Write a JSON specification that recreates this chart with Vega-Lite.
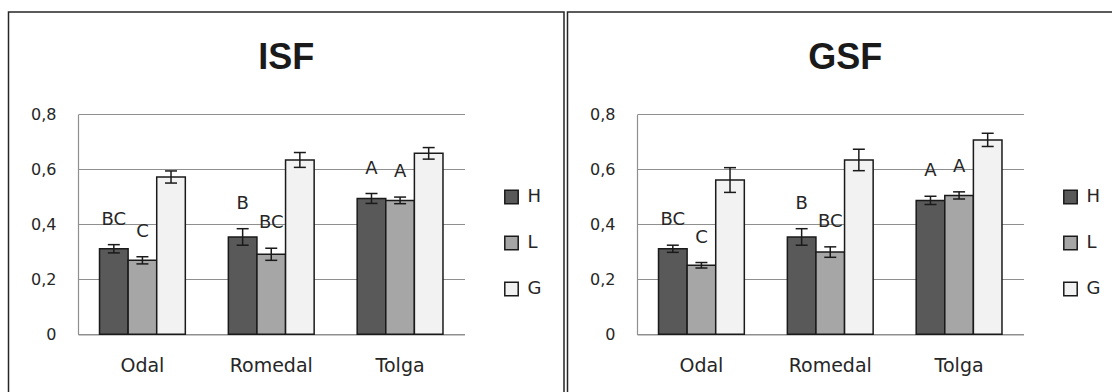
{
  "$schema": "https://vega.github.io/schema/vega-lite/v6.json",
  "padding": {"left": 7.5, "top": 11, "right": 0, "bottom": 0},
  "background": "white",
  "spacing": 1,
  "data": {"values": [
    {"panel": "ISF", "site": "Odal", "trt": "H", "mean": 0.311, "err": 0.015, "letter": "BC"},
    {"panel": "ISF", "site": "Odal", "trt": "L", "mean": 0.269, "err": 0.013, "letter": "C"},
    {"panel": "ISF", "site": "Odal", "trt": "G", "mean": 0.572, "err": 0.022, "letter": ""},
    {"panel": "ISF", "site": "Romedal", "trt": "H", "mean": 0.354, "err": 0.030, "letter": "B"},
    {"panel": "ISF", "site": "Romedal", "trt": "L", "mean": 0.291, "err": 0.022, "letter": "BC"},
    {"panel": "ISF", "site": "Romedal", "trt": "G", "mean": 0.634, "err": 0.027, "letter": ""},
    {"panel": "ISF", "site": "Tolga", "trt": "H", "mean": 0.494, "err": 0.018, "letter": "A"},
    {"panel": "ISF", "site": "Tolga", "trt": "L", "mean": 0.487, "err": 0.012, "letter": "A"},
    {"panel": "ISF", "site": "Tolga", "trt": "G", "mean": 0.658, "err": 0.021, "letter": ""},
    {"panel": "GSF", "site": "Odal", "trt": "H", "mean": 0.311, "err": 0.013, "letter": "BC"},
    {"panel": "GSF", "site": "Odal", "trt": "L", "mean": 0.251, "err": 0.010, "letter": "C"},
    {"panel": "GSF", "site": "Odal", "trt": "G", "mean": 0.561, "err": 0.045, "letter": ""},
    {"panel": "GSF", "site": "Romedal", "trt": "H", "mean": 0.354, "err": 0.030, "letter": "B"},
    {"panel": "GSF", "site": "Romedal", "trt": "L", "mean": 0.299, "err": 0.019, "letter": "BC"},
    {"panel": "GSF", "site": "Romedal", "trt": "G", "mean": 0.634, "err": 0.039, "letter": ""},
    {"panel": "GSF", "site": "Tolga", "trt": "H", "mean": 0.487, "err": 0.015, "letter": "A"},
    {"panel": "GSF", "site": "Tolga", "trt": "L", "mean": 0.505, "err": 0.013, "letter": "A"},
    {"panel": "GSF", "site": "Tolga", "trt": "G", "mean": 0.707, "err": 0.024, "letter": ""}
  ]},
  "config": {
    "view": {"stroke": "#262626", "strokeWidth": 1.5},
    "font": "DejaVu Sans",
    "axis": {"labelFont": "DejaVu Sans", "labelColor": "#262626", "domainColor": "#8f8f8f", "domainWidth": 1.2, "gridColor": "#8f8f8f", "gridWidth": 1.2, "ticks": false, "tickSize": 0, "title": null}
  },
  "resolve": {"scale": {"color": "independent"}, "legend": {"color": "independent"}},
  "hconcat": [
    {
      "width": 555.5, "height": 390,
      "title": {"text": "ISF", "font": "Liberation Sans", "fontSize": 36, "fontWeight": "bold", "color": "#1a1a1a", "anchor": "middle", "frame": "group", "baseline": "alphabetic", "offset": -93},
      "transform": [
        {"filter": "datum.panel == 'ISF'"},
        {"calculate": "datum.mean - datum.err", "as": "lo"},
        {"calculate": "datum.mean + datum.err", "as": "hi"}
      ],
      "encoding": {
        "x": {"field": "site", "type": "nominal", "sort": ["Odal", "Romedal", "Tolga"],
              "scale": {"range": [69.5, 456], "paddingInner": 0.334, "paddingOuter": 0.167},
              "axis": {"orient": "bottom", "offset": -67.7, "labelAngle": 0, "labelFontSize": 19, "labelBaseline": "alphabetic", "labelPadding": 37, "grid": false}},
        "xOffset": {"field": "trt", "type": "nominal", "sort": ["H", "L", "G"]}
      },
      "layer": [
        {
          "mark": {"type": "bar", "stroke": "#1a1a1a", "strokeWidth": 1.5},
          "encoding": {
            "y": {"field": "mean", "type": "quantitative",
                  "scale": {"domain": [0, 0.8], "range": [322.3, 102.3], "nice": false},
                  "axis": {"offset": -69.5, "values": [0, 0.2, 0.4, 0.6, 0.8], "grid": true, "labelFontSize": 16, "labelPadding": 22, "labelExpr": "datum.value == 0 ? '0' : replace(format(datum.value, '.1f'), '.', ',')"}},
            "color": {"field": "trt", "type": "nominal", "sort": ["H", "L", "G"],
                      "scale": {"domain": ["H", "L", "G"], "range": ["#595959", "#a6a6a6", "#f2f2f2"]},
                      "legend": {"orient": "none", "legendX": 494, "legendY": 176, "title": null, "symbolType": "square", "symbolSize": 180, "symbolStrokeColor": "#1a1a1a", "symbolStrokeWidth": 1.5, "symbolOpacity": 1, "labelFontSize": 18, "labelFont": "DejaVu Sans", "labelColor": "#262626", "labelOffset": 7, "rowPadding": 26, "padding": 0}}
          }
        },
        {
          "mark": {"type": "rule", "color": "#1a1a1a", "strokeWidth": 1.5},
          "encoding": {"y": {"field": "lo", "type": "quantitative"}, "y2": {"field": "hi"}}
        },
        {
          "mark": {"type": "tick", "color": "#1a1a1a", "thickness": 1.5, "size": 12, "opacity": 1},
          "encoding": {"y": {"field": "lo", "type": "quantitative"}}
        },
        {
          "mark": {"type": "tick", "color": "#1a1a1a", "thickness": 1.5, "size": 12, "opacity": 1},
          "encoding": {"y": {"field": "hi", "type": "quantitative"}}
        },
        {
          "transform": [{"filter": "datum.letter != ''"}],
          "mark": {"type": "text", "fontSize": 18, "dy": -25, "baseline": "middle", "align": "center", "color": "#262626"},
          "encoding": {"y": {"field": "hi", "type": "quantitative"}, "text": {"field": "letter"}}
        }
      ]
    },
    {
      "width": 555.5, "height": 390,
      "title": {"text": "GSF", "font": "Liberation Sans", "fontSize": 36, "fontWeight": "bold", "color": "#1a1a1a", "anchor": "middle", "frame": "group", "baseline": "alphabetic", "offset": -93},
      "transform": [
        {"filter": "datum.panel == 'GSF'"},
        {"calculate": "datum.mean - datum.err", "as": "lo"},
        {"calculate": "datum.mean + datum.err", "as": "hi"}
      ],
      "encoding": {
        "x": {"field": "site", "type": "nominal", "sort": ["Odal", "Romedal", "Tolga"],
              "scale": {"range": [69.5, 456], "paddingInner": 0.334, "paddingOuter": 0.167},
              "axis": {"orient": "bottom", "offset": -67.7, "labelAngle": 0, "labelFontSize": 19, "labelBaseline": "alphabetic", "labelPadding": 37, "grid": false}},
        "xOffset": {"field": "trt", "type": "nominal", "sort": ["H", "L", "G"]}
      },
      "layer": [
        {
          "mark": {"type": "bar", "stroke": "#1a1a1a", "strokeWidth": 1.5},
          "encoding": {
            "y": {"field": "mean", "type": "quantitative",
                  "scale": {"domain": [0, 0.8], "range": [322.3, 102.3], "nice": false},
                  "axis": {"offset": -69.5, "values": [0, 0.2, 0.4, 0.6, 0.8], "grid": true, "labelFontSize": 16, "labelPadding": 22, "labelExpr": "datum.value == 0 ? '0' : replace(format(datum.value, '.1f'), '.', ',')"}},
            "color": {"field": "trt", "type": "nominal", "sort": ["H", "L", "G"],
                      "scale": {"domain": ["H", "L", "G"], "range": ["#595959", "#a6a6a6", "#f2f2f2"]},
                      "legend": {"orient": "none", "legendX": 494, "legendY": 176, "title": null, "symbolType": "square", "symbolSize": 180, "symbolStrokeColor": "#1a1a1a", "symbolStrokeWidth": 1.5, "symbolOpacity": 1, "labelFontSize": 18, "labelFont": "DejaVu Sans", "labelColor": "#262626", "labelOffset": 7, "rowPadding": 26, "padding": 0}}
          }
        },
        {
          "mark": {"type": "rule", "color": "#1a1a1a", "strokeWidth": 1.5},
          "encoding": {"y": {"field": "lo", "type": "quantitative"}, "y2": {"field": "hi"}}
        },
        {
          "mark": {"type": "tick", "color": "#1a1a1a", "thickness": 1.5, "size": 12, "opacity": 1},
          "encoding": {"y": {"field": "lo", "type": "quantitative"}}
        },
        {
          "mark": {"type": "tick", "color": "#1a1a1a", "thickness": 1.5, "size": 12, "opacity": 1},
          "encoding": {"y": {"field": "hi", "type": "quantitative"}}
        },
        {
          "transform": [{"filter": "datum.letter != ''"}],
          "mark": {"type": "text", "fontSize": 18, "dy": -25, "baseline": "middle", "align": "center", "color": "#262626"},
          "encoding": {"y": {"field": "hi", "type": "quantitative"}, "text": {"field": "letter"}}
        }
      ]
    }
  ]
}
